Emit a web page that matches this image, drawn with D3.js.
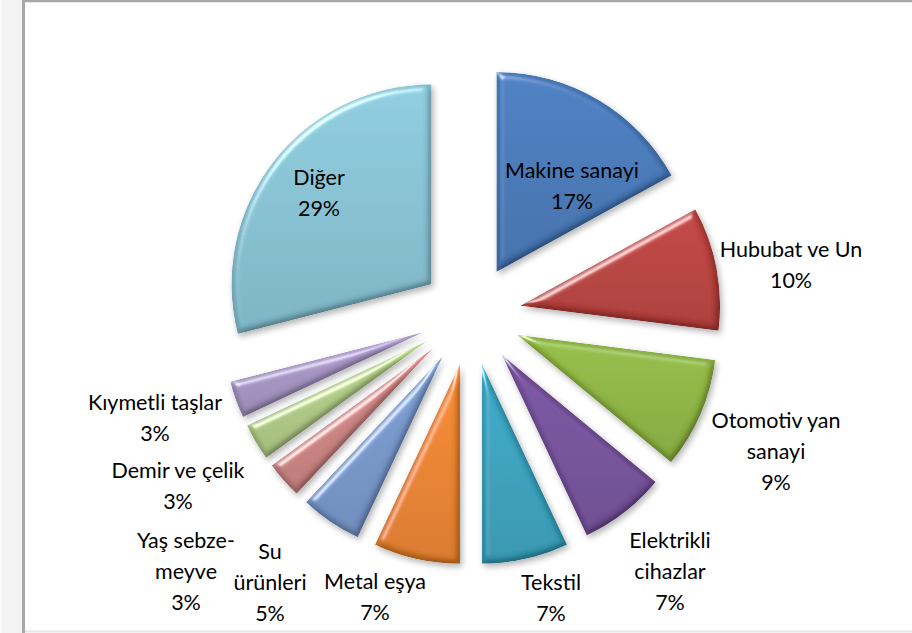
<!DOCTYPE html>
<html lang="tr">
<head>
<meta charset="UTF-8">
<title>Pasta grafik</title>
<script src="https://d3js.org/d3.v7.min.js"></script>
<style>
  body { margin: 0; background: #fff; }
  svg { display: block; }
  text { font-family: Lato, "Open Sans", sans-serif; font-size: 21.5px; fill: #000; }
</style>
</head>
<body>
<svg width="912" height="633"></svg>
<script>
// data
const categories = ["Makine sanayi", "Hububat ve Un", "Otomotiv yan sanayi", "Elektrikli cihazlar",
  "Tekstil", "Metal eşya", "Su ürünleri", "Yaş sebze-meyve", "Demir ve çelik", "Kıymetli taşlar", "Diğer"];
const values = [17, 10, 9, 7, 7, 7, 5, 3, 3, 3, 29];
const labelLines = [["Makine sanayi"], ["Hububat ve Un"], ["Otomotiv yan", "sanayi"], ["Elektrikli", "cihazlar"],
  ["Tekstil"], ["Metal eşya"], ["Su", "ürünleri"], ["Yaş sebze-", "meyve"], ["Demir ve çelik"], ["Kıymetli taşlar"], ["Diğer"]];
const colors = ["#4a7ec0", "#c0433f", "#94bd45", "#7a55a2", "#3aa9c6", "#f5892f",
  "#7c9dd2", "#d58a88", "#b8d38c", "#ad9bcb", "#8ccadc"];

// layout
const width = 912, height = 633;
const cx = 471, cy = 315, radius = 200, explode = 50;
const labelAt = [[572, 170], [791, 249], [776, 420], [670, 540], [551, 582], [375, 581],
  [270, 551], [186, 540], [178, 470], [155, 402], [319, 177]];
const lineH = 31;

const svg = d3.select("svg");

// frame
svg.append("rect").attr("x", 0).attr("y", 0).attr("width", 23).attr("height", height).attr("fill", "#f3f3f3");
svg.append("rect").attr("x", 0).attr("y", 0).attr("width", 2).attr("height", height).attr("fill", "#fafafa");
svg.append("line").attr("x1", 23.5).attr("x2", 23.5).attr("y1", 0).attr("y2", height)
  .attr("stroke", "#a8a8a8").attr("stroke-width", 3);
svg.append("line").attr("x1", 22).attr("x2", width).attr("y1", 1).attr("y2", 1)
  .attr("stroke", "#a8a8a8").attr("stroke-width", 2.5);
svg.append("line").attr("x1", 25).attr("x2", width).attr("y1", 631.5).attr("y2", 631.5)
  .attr("stroke", "#e6e6e6").attr("stroke-width", 2);

// bevel filter
const defs = svg.append("defs");
const f = defs.append("filter").attr("id", "bevel")
  .attr("x", "-10%").attr("y", "-10%").attr("width", "125%").attr("height", "125%");
f.append("feGaussianBlur").attr("in", "SourceAlpha").attr("stdDeviation", 3.5).attr("result", "blur");
const diff = f.append("feDiffuseLighting").attr("in", "blur").attr("surfaceScale", 5)
  .attr("diffuseConstant", 1.0).attr("lighting-color", "#fff").attr("result", "diff");
diff.append("feDistantLight").attr("azimuth", 235).attr("elevation", 75);
f.append("feComposite").attr("in", "SourceGraphic").attr("in2", "diff")
  .attr("operator", "arithmetic").attr("k1", 1).attr("k2", 0).attr("k3", 0).attr("k4", 0).attr("result", "lit");
const spec = f.append("feSpecularLighting").attr("in", "blur").attr("surfaceScale", 5)
  .attr("specularConstant", 0.6).attr("specularExponent", 30).attr("lighting-color", "#fff").attr("result", "spec");
spec.append("feDistantLight").attr("azimuth", 235).attr("elevation", 32);
f.append("feComposite").attr("in", "spec").attr("in2", "SourceAlpha").attr("operator", "in").attr("result", "specIn");
f.append("feComposite").attr("in", "lit").attr("in2", "specIn")
  .attr("operator", "arithmetic").attr("k1", 0).attr("k2", 1).attr("k3", 1).attr("k4", 0).attr("result", "bev");
f.append("feComposite").attr("in", "bev").attr("in2", "SourceAlpha").attr("operator", "in").attr("result", "shape");
f.append("feGaussianBlur").attr("in", "SourceAlpha").attr("stdDeviation", 3).attr("result", "sb");
f.append("feOffset").attr("in", "sb").attr("dx", 2).attr("dy", 3).attr("result", "so");
f.append("feComponentTransfer").attr("in", "so").attr("result", "shadow")
  .append("feFuncA").attr("type", "linear").attr("slope", 0.3);
const m = f.append("feMerge");
m.append("feMergeNode").attr("in", "shadow");
m.append("feMergeNode").attr("in", "shape");

// vertical shading gradient per colour
colors.forEach((c, i) => {
  const g = defs.append("linearGradient").attr("id", "g" + i)
    .attr("x1", 0).attr("y1", 0).attr("x2", 0).attr("y2", 1);
  g.append("stop").attr("offset", "0%").attr("stop-color", d3.color(c).brighter(0.08));
  g.append("stop").attr("offset", "100%").attr("stop-color", d3.color(c).darker(0.3));
});

const pie = d3.pie().sort(null).value(d => d);
const arc = d3.arc().innerRadius(0).outerRadius(radius);
const arcs = pie(values);

svg.append("g").attr("transform", `translate(${cx},${cy})`)
  .selectAll("path").data(arcs).join("path")
  .attr("transform", d => {
    const a = (d.startAngle + d.endAngle) / 2;
    return `translate(${Math.sin(a) * explode},${-Math.cos(a) * explode})`;
  })
  .attr("d", arc)
  .attr("fill", (d, i) => `url(#g${i})`)
  .attr("filter", "url(#bevel)");

// labels
const lg = svg.append("g");
categories.forEach((name, i) => {
  const lines = labelLines[i].concat([values[i] + "%"]);
  const t = lg.append("text").attr("text-anchor", "middle")
    .attr("x", labelAt[i][0]).attr("y", labelAt[i][1]);
  lines.forEach((s, k) => {
    t.append("tspan").attr("x", labelAt[i][0]).attr("dy", k === 0 ? "0.35em" : lineH).text(s);
  });
});
</script>
</body>
</html>
